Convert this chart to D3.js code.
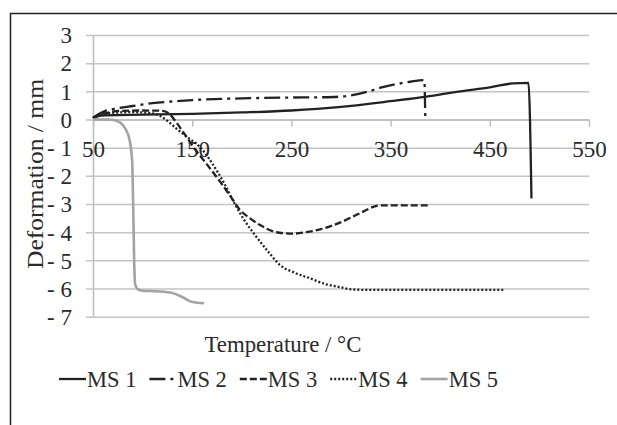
<!DOCTYPE html>
<html>
<head>
<meta charset="utf-8">
<script src="https://cdn.jsdelivr.net/npm/d3@7"></script>
<style>
  body { margin: 0; background: #fff; }
  svg text { font-family: "Liberation Serif", "Times New Roman", serif; fill: #2a2a2a; }
</style>
</head>
<body>
<div id="chart"></div>
<script>
// values: [temperature, deformation]
var ms1 = [[50,0.05],[55,0.12],[62,0.15],[100,0.17],[150,0.2],[200,0.25],[250,0.32],[300,0.45],[350,0.65],[386,0.81],[420,1.0],[450,1.14],[473,1.28],[489,1.3],[492,-2.8]];
var ms2 = [[50,0.05],[55,0.18],[62,0.3],[75,0.4],[90,0.48],[110,0.58],[130,0.64],[150,0.69],[200,0.75],[250,0.78],[280,0.79],[302,0.82],[325,0.97],[341,1.14],[370,1.34],[384,1.4],[385,0]];
var ms3 = [[50,0.08],[60,0.2],[70,0.28],[80,0.31],[100,0.32],[120,0.31],[127,0.2],[134,-0.1],[142,-0.5],[151,-0.97],[165,-1.6],[178,-2.2],[190,-2.8],[198,-3.2],[208,-3.5],[218,-3.74],[238,-4.02],[252,-4.05],[265,-4.0],[279,-3.9],[299,-3.66],[319,-3.33],[339,-3.05],[360,-3.05],[388,-3.05]];
var ms4 = [[50,0.05],[60,0.18],[70,0.24],[90,0.26],[110,0.22],[118,0.12],[125,-0.05],[135,-0.35],[146,-0.65],[158,-0.98],[170,-1.55],[182,-2.25],[193,-3.0],[203,-3.6],[212,-4.04],[228,-4.75],[238,-5.15],[254,-5.45],[269,-5.64],[285,-5.85],[299,-5.95],[310,-6.03],[330,-6.05],[465,-6.05]];
var ms5 = [[50,0],[65,0],[72,-0.03],[78,-0.12],[83,-0.35],[87,-0.75],[89.5,-1.5],[90.5,-3],[91.5,-5],[92.5,-5.85],[95,-6.02],[100,-6.08],[115,-6.1],[130,-6.16],[140,-6.3],[150,-6.48],[162,-6.52]];

var seriesNames = ["MS 1", "MS 2", "MS 3", "MS 4", "MS 5"];
var xTicks = [50, 150, 250, 350, 450, 550];
var yTicks = [-7, -6, -5, -4, -3, -2, -1, 0, 1, 2, 3];

var styles = [
  {color: "#222", width: 2.3, dash: null},
  {color: "#222", width: 2.3, dash: "16,5,3,5"},
  {color: "#222", width: 2.3, dash: "7,3"},
  {color: "#222", width: 2.3, dash: "2,2"},
  {color: "#a3a3a3", width: 2.6, dash: null}
];

var svg = d3.select("#chart").append("svg")
    .attr("width", 617)
    .attr("height", 425);

// frame (left and top edges only visible)
svg.append("path")
    .attr("d", "M10.5,425 L10.5,13.5 L617,13.5")
    .attr("fill", "none")
    .attr("stroke", "#222")
    .attr("stroke-width", 1.5);

var x = d3.scaleLinear().domain([50, 550]).range([93, 589]);
var y = d3.scaleLinear().domain([-7, 3]).range([316.7, 35]);

// y axis + gridlines
var yAxis = svg.append("g")
    .attr("transform", "translate(" + x(50) + ",0)")
    .call(d3.axisLeft(y)
        .tickValues(yTicks)
        .tickSizeInner(-(x(550) - x(50)))
        .tickSizeOuter(0)
        .tickPadding(21)
        .tickFormat(function(d) { return d < 0 ? "- " + Math.abs(d) : d; }));
yAxis.select(".domain").attr("stroke", "#bdbdbd").attr("stroke-width", 1.5);
yAxis.selectAll(".tick line").attr("x1", -7).attr("stroke", "#c4c4c4").attr("stroke-width", 1.5);
yAxis.selectAll(".tick text").attr("font-size", 23).attr("dy", "0.34em").style("font-family", "Liberation Serif");

// x axis at zero
var xAxis = svg.append("g")
    .attr("transform", "translate(0," + y(0) + ")")
    .call(d3.axisBottom(x)
        .tickValues(xTicks)
        .tickSize(7)
        .tickPadding(14)
        .tickSizeOuter(0));
xAxis.select(".domain").attr("stroke", "#bdbdbd").attr("stroke-width", 1.5);
xAxis.selectAll(".tick line").attr("stroke", "#bdbdbd").attr("stroke-width", 1.5);
xAxis.selectAll(".tick text").attr("font-size", 23).style("font-family", "Liberation Serif");

// series lines
var line = d3.line()
    .x(function(d) { return x(d[0]); })
    .y(function(d) { return y(d[1]); })
    .curve(d3.curveMonotoneX);

var allSeries = [ms1, ms2, ms3, ms4, ms5];
allSeries.forEach(function(data, i) {
  var s = styles[i];
  svg.append("path")
      .datum(data)
      .attr("d", line)
      .attr("fill", "none")
      .attr("stroke", s.color)
      .attr("stroke-width", s.width)
      .attr("stroke-linejoin", "round")
      .attr("stroke-dasharray", s.dash);
});

// axis titles
svg.append("text")
    .attr("x", 283)
    .attr("y", 352)
    .attr("text-anchor", "middle")
    .attr("font-size", 22.8)
    .text("Temperature / °C");

svg.append("text")
    .attr("transform", "translate(43,174) rotate(-90)")
    .attr("text-anchor", "middle")
    .attr("font-size", 23)
    .attr("textLength", 190)
    .attr("lengthAdjust", "spacingAndGlyphs")
    .text("Deformation / mm");

// legend
var legend = svg.append("g");
var lx = 59;
seriesNames.forEach(function(name, i) {
  var s = styles[i];
  legend.append("line")
      .attr("x1", lx).attr("x2", lx + 27)
      .attr("y1", 379).attr("y2", 379)
      .attr("stroke", s.color)
      .attr("stroke-width", s.width)
      .attr("stroke-dasharray", s.dash);
  var t = legend.append("text")
      .attr("x", lx + 28)
      .attr("y", 386.5)
      .attr("font-size", 22.5)
      .text(name);
  lx += 28 + t.node().getComputedTextLength() + 13;
});
</script>
</body>
</html>
